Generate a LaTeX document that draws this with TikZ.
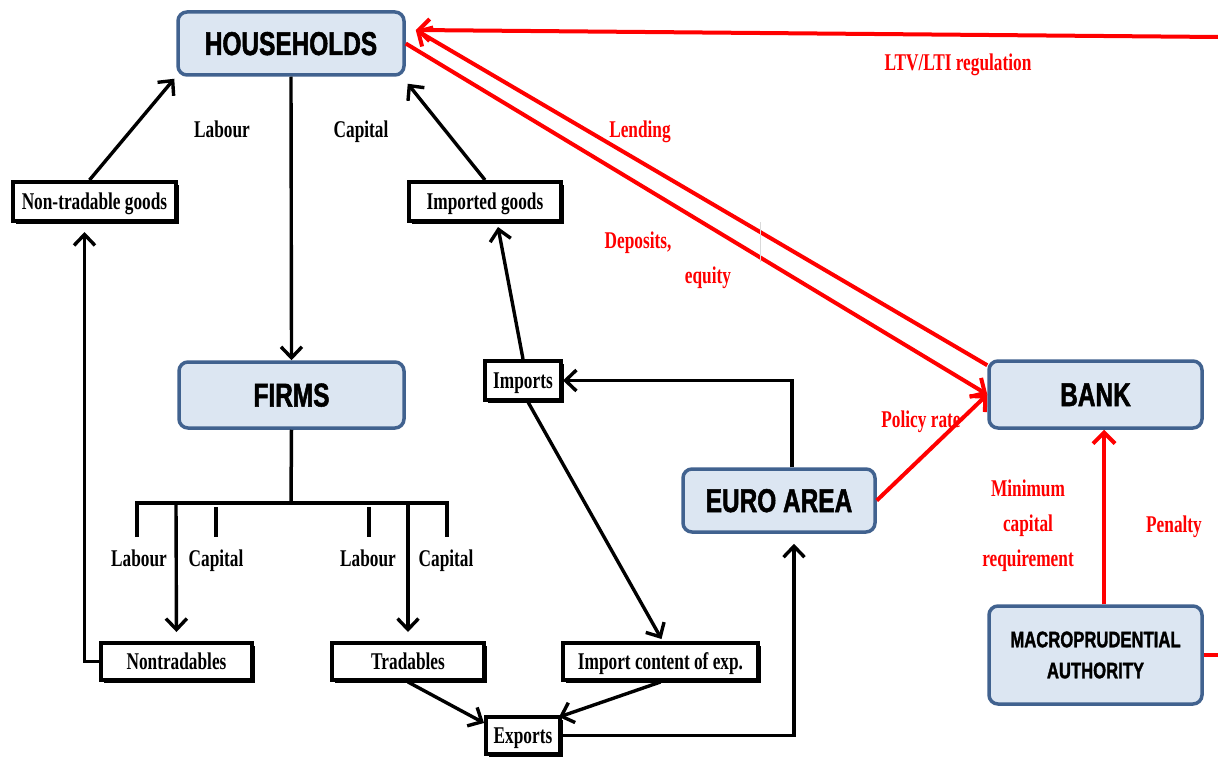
\documentclass[tikz,border=0pt]{standalone}
\usepackage{fontspec}
\usetikzlibrary{arrows.meta,shadows,calc}
\newfontfamily\tfont[FakeStretch=0.74,FakeBold=1.5]{Liberation Sans}
\newfontfamily\sfont[FakeStretch=0.72]{Liberation Serif}
\definecolor{boxfill}{HTML}{DCE6F2}
\definecolor{boxline}{HTML}{41628F}
\definecolor{myred}{HTML}{FF0000}
\tikzset{
 bluebox/.style={draw=boxline, fill=boxfill, line width=3.5pt, rounded corners=9pt, inner sep=0pt, align=center, font=\tfont\bfseries\fontsize{33}{36}\selectfont},
 oneline/.style={text height=23pt, text depth=0pt},
 blackbox/.style={draw=black, fill=white, line width=4pt, inner sep=0pt, font=\sfont\bfseries\fontsize{24}{28}\selectfont, text height=16pt, text depth=0pt, drop shadow={shadow xshift=2.5pt, shadow yshift=-3pt, fill=black, opacity=1}},
 lbl/.style={font=\sfont\bfseries\fontsize{24}{28}\selectfont, anchor=base, inner sep=0pt},
 rlbl/.style={lbl, text=myred},
 blk/.style={draw=black, line width=3.4pt, -{Straight Barb[length=11pt,width=21pt]}},
 redarr/.style={draw=myred, line width=4pt, -{Straight Barb[length=11pt,width=22pt]}},
 redline/.style={draw=myred, line width=4pt},
}
\begin{document}
\begin{tikzpicture}[x=1pt,y=-1pt]
\fill[white] (0,0) rectangle (1218,757);
\useasboundingbox (0,0) rectangle (1218,757);

% blue boxes
\node[bluebox, oneline, minimum width=226pt, minimum height=63pt] (hh) at (291,43.5) {HOUSEHOLDS};
\node[bluebox, oneline, minimum width=225pt, minimum height=66pt] (firms) at (291.5,395) {FIRMS};
\node[bluebox, oneline, minimum width=213pt, minimum height=67pt] (bank) at (1095.5,394.5) {BANK};
\node[bluebox, oneline, minimum width=192pt, minimum height=63pt] (euro) at (779,500.5) {EURO AREA};
\node[bluebox, minimum width=213pt, minimum height=98pt, font=\tfont\bfseries\fontsize{22.5}{31}\selectfont] (macro) at (1095.5,655) {MACROPRUDENTIAL\\AUTHORITY};

% black boxes
\node[blackbox, minimum width=163pt, minimum height=39pt] (ntg) at (94.5,201.5) {Non-tradable goods};
\node[blackbox, minimum width=152pt, minimum height=39pt] (ig) at (485,201.5) {Imported goods};
\node[blackbox, minimum width=76pt, minimum height=39pt] (imports) at (523,380.5) {Imports};
\node[blackbox, minimum width=151pt, minimum height=37pt] (ntr) at (176.5,661.5) {Nontradables};
\node[blackbox, minimum width=152pt, minimum height=37pt] (tr) at (408,661.5) {Tradables};
\node[blackbox, minimum width=195pt, minimum height=37pt] (ice) at (660.5,661.5) {Import content of exp.};
\node[blackbox, minimum width=74pt, minimum height=37pt] (exp) at (523,735.5) {Exports};

% black connectors
\draw[blk] ($(ntg.north)+(-5,0)$) -- ($(hh.south west)+(-2,2)$);
\draw[blk] (ig.north) -- ($(hh.south east)+(2,7)$);
\draw[blk] (hh.south) -- (firms.north);
\draw[blk] (imports.north) -- ($(ig.south)+(13,4)$);
\draw[blk] ($(euro.north)+(13,0)$) |- (imports.east);
\draw[blk] ($(imports.south)+(5,0)$) -- ($(ice.north)+(1,-2)$);
\draw[blk] (tr.south) -- ($(exp.north west)+(0,8)$);
\draw[blk] (ice.south) -- ($(exp.north east)+(-3,2)$);
\draw[blk] (exp.east) -| ($(euro.south)+(15,10)$);
\draw[blk] (ntr.west) -| ($(ntg.south)+(-10,9)$);

% firms tree
\coordinate (fork) at (291,503);
\coordinate (forkA) at (176,503);
\coordinate (forkB) at (408,503);
\draw[line width=3.5pt] (firms.south) -- (fork);
\draw[line width=3.5pt] (137,537) -- (137,503) -- (447,503) -- (447,537);
\draw[line width=3.2pt] (216,507) -- (216,537);
\draw[line width=3.2pt] (369,507) -- (369,537);
\draw[blk, shorten >=9pt] (forkA) -- (ntr.north);
\draw[blk, shorten >=9pt] (forkB) -- (tr.north);

% red connectors
\coordinate (ltvR) at (1218,37);
\coordinate (mR) at (1218,655);
\draw[redarr] (ltvR) -- ($(hh.east)+(10,-13.5)$);
\draw[redarr] ($(bank.north west)+(0,6)$) -- ($(hh.east)+(10,-13.5)$);
\draw[redarr] (hh.east) -- (bank.west);
\draw[redarr] (euro.east) -- (bank.west);
\draw[redarr] ($(macro.north)+(8.5,0)$) -- ($(bank.south)+(8.5,0)$);
\draw[redline] (macro.east) -- (mR);

% faint mark
\draw[gray!30, line width=1pt] (760,222) -- (760,262);

% black labels
\node[lbl] (l1) at (222,138) {Labour};
\node[lbl] (c1) at (361,138) {Capital};
\node[lbl] (l2) at (139,566) {Labour};
\node[lbl] (c2) at (216,566) {Capital};
\node[lbl] (l3) at (368,566) {Labour};
\node[lbl] (c3) at (446,566) {Capital};

% red labels
\node[rlbl] (ltv) at (958,71) {LTV/LTI regulation};
\node[rlbl] (lend) at (640,138) {Lending};
\node[rlbl] (dep) at (638,248) {Deposits,};
\node[rlbl] (eq) at (708,283) {equity};
\node[rlbl] (pol) at (921,427) {Policy rate};
\node[rlbl] (min1) at (1028,496) {Minimum};
\node[rlbl] (min2) at (1028,531) {capital};
\node[rlbl] (min3) at (1028,566) {requirement};
\node[rlbl] (pen) at (1174,532) {Penalty};
\end{tikzpicture}
\end{document}
